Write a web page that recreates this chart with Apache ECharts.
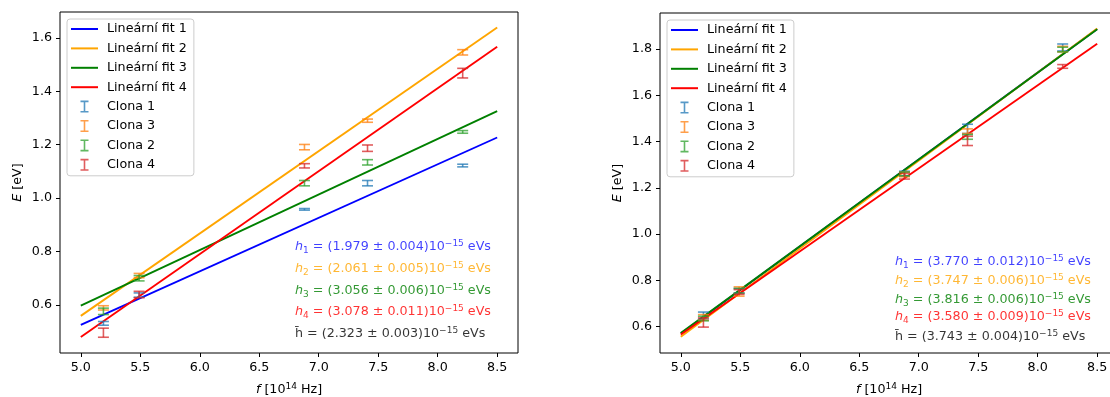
<!DOCTYPE html>
<html>
<head>
<meta charset="utf-8">
<script src="https://cdn.jsdelivr.net/npm/echarts@6/dist/echarts.min.js"></script>
<style>
  html, body { margin: 0; padding: 0; background: #fff; }
  #main { width: 1110px; height: 397px; }
</style>
</head>
<body>
<div id="main"></div>
<script>
// frequencies of the Hg lines [10^14 Hz]
const freq = [5.19, 5.49, 6.88, 7.41, 8.21];
const fitX = [5.0, 8.5];
const xTicks = [5.0, 5.5, 6.0, 6.5, 7.0, 7.5, 8.0, 8.5];
const leftYTicks = [0.6, 0.8, 1.0, 1.2, 1.4, 1.6];
const rightYTicks = [0.6, 0.8, 1.0, 1.2, 1.4, 1.6, 1.8];

// left plot
const leftFit1 = [0.525, 1.227];
const leftFit2 = [0.559, 1.639];
const leftFit3 = [0.597, 1.326];
const leftFit4 = [0.480, 1.567];
const leftClona1 = [0.531, 0.637, 0.958, 1.056, 1.122];
const leftClona1Err = [0.007, 0.008, 0.003, 0.010, 0.005];
const leftClona3 = [0.589, 0.710, 1.191, 1.290, 1.546];
const leftClona3Err = [0.008, 0.008, 0.010, 0.006, 0.010];
const leftClona2 = [0.576, 0.700, 1.056, 1.134, 1.248];
const leftClona2Err = [0.012, 0.010, 0.010, 0.010, 0.005];
const leftClona4 = [0.496, 0.639, 1.121, 1.187, 1.468];
const leftClona4Err = [0.017, 0.012, 0.008, 0.012, 0.018];
const leftH = ['(1.979 ± 0.004)', '(2.061 ± 0.005)', '(3.056 ± 0.006)', '(3.078 ± 0.011)', '(2.323 ± 0.003)'];

// right plot
const rightFit1 = [0.570, 1.887];
const rightFit2 = [0.556, 1.889];
const rightFit3 = [0.572, 1.886];
const rightFit4 = [0.566, 1.823];
const rightClona1 = [0.648, 0.755, 1.262, 1.455, 1.807];
const rightClona1Err = [0.015, 0.010, 0.010, 0.020, 0.015];
const rightClona3 = [0.640, 0.752, 1.258, 1.445, 1.800];
const rightClona3Err = [0.012, 0.020, 0.010, 0.010, 0.012];
const rightClona2 = [0.635, 0.755, 1.260, 1.420, 1.798];
const rightClona2Err = [0.010, 0.010, 0.008, 0.010, 0.010];
const rightClona4 = [0.618, 0.750, 1.250, 1.403, 1.725];
const rightClona4Err = [0.020, 0.010, 0.012, 0.020, 0.008];
const rightH = ['(3.770 ± 0.012)', '(3.747 ± 0.006)', '(3.816 ± 0.006)', '(3.580 ± 0.009)', '(3.743 ± 0.004)'];

const FONT = 'DejaVu Sans';
const fitColors = ['#0000ff', '#ffa500', '#008000', '#ff0000'];
const barColors = {
  'Clona 1': 'rgba(31,119,180,0.75)',
  'Clona 3': 'rgba(255,127,14,0.75)',
  'Clona 2': 'rgba(44,160,44,0.75)',
  'Clona 4': 'rgba(214,39,40,0.75)'
};
const textColors = ['rgba(0,0,255,0.75)', 'rgba(255,165,0,0.8)', 'rgba(0,128,0,0.8)', 'rgba(255,0,0,0.8)', 'rgba(0,0,0,0.8)'];
const fitNames = ['Lineární fit 1', 'Lineární fit 2', 'Lineární fit 3', 'Lineární fit 4'];
const clonaNames = ['Clona 1', 'Clona 3', 'Clona 2', 'Clona 4'];
const ibeam = 'path://M0,0h8v1.6h-8z M3.2,1.6h1.6v8.8h-1.6z M0,10.4h8v1.6h-8z';
const lineIcon = 'path://M0,0h27v2h-27z';

function fitSeries(name, ys, color, idx) {
  return {
    name: name,
    type: 'line',
    xAxisIndex: idx,
    yAxisIndex: idx,
    data: fitX.map((x, i) => [x, ys[i]]),
    symbol: 'none',
    lineStyle: { color: color, width: 1.9 },
    itemStyle: { color: color },
    z: 2,
    animation: false
  };
}

function errSeries(name, ys, errs, idx) {
  return {
    name: name,
    type: 'custom',
    xAxisIndex: idx,
    yAxisIndex: idx,
    data: freq.map((x, i) => [x, ys[i], errs[i]]),
    encode: { x: 0, y: 1 },
    itemStyle: { color: barColors[name] },
    z: 3,
    animation: false,
    renderItem: function (params, api) {
      const x = api.value(0), y = api.value(1), e = api.value(2);
      const top = api.coord([x, y + e]);
      const bot = api.coord([x, y - e]);
      const w = 5.5;
      const style = { stroke: api.visual('color'), lineWidth: 1.6, fill: null };
      return {
        type: 'group',
        children: [
          { type: 'line', shape: { x1: top[0], y1: top[1], x2: bot[0], y2: bot[1] }, style: style },
          { type: 'line', shape: { x1: top[0] - w, y1: top[1], x2: top[0] + w, y2: top[1] }, style: style },
          { type: 'line', shape: { x1: bot[0] - w, y1: bot[1], x2: bot[0] + w, y2: bot[1] }, style: style }
        ]
      };
    }
  };
}

function hRich(color) {
  const base = { fontFamily: FONT, fontWeight: 'normal', color: color };
  return {
    h: Object.assign({}, base, { fontSize: 12.7, fontStyle: 'italic', lineHeight: 16 }),
    t: Object.assign({}, base, { fontSize: 12.7, lineHeight: 16 }),
    sub: Object.assign({}, base, { fontSize: 9, lineHeight: 8, verticalAlign: 'bottom' }),
    sup: Object.assign({}, base, { fontSize: 9, lineHeight: 8, verticalAlign: 'top' })
  };
}

function hTitles(labels, left, tops) {
  return labels.map((v, i) => {
    const text = i < 4
      ? '{h|h}{sub|' + (i + 1) + '}{t| = ' + v + '10}{sup|−15}{t| eVs}'
      : '{t|h\u0304 = ' + v + '10}{sup|−15}{t| eVs}';
    return {
      text: text,
      left: left,
      top: tops[i],
      padding: 0,
      textStyle: { fontWeight: 'normal', rich: hRich(textColors[i]) }
    };
  });
}

function xAxis(idx) {
  return {
    type: 'value',
    gridIndex: idx,
    min: 4.825,
    max: 8.675,
    name: '{i|f} [10{sup|14} Hz]',
    nameLocation: 'middle',
    nameGap: 29,
    nameTextStyle: {
      fontFamily: FONT, fontSize: 12.7, color: '#000',
      rich: {
        i: { fontFamily: FONT, fontSize: 12.7, fontStyle: 'italic', color: '#000', lineHeight: 16 },
        sup: { fontFamily: FONT, fontSize: 9, color: '#000', lineHeight: 8, verticalAlign: 'top' }
      }
    },
    axisLine: { show: false },
    axisTick: { show: true, length: 4, customValues: xTicks, lineStyle: { color: '#000' } },
    axisLabel: {
      customValues: xTicks, margin: 8, fontFamily: FONT, fontSize: 12.7, color: '#000',
      formatter: v => v.toFixed(1)
    },
    splitLine: { show: false }
  };
}

function yAxis(idx, min, max, ticks) {
  return {
    type: 'value',
    gridIndex: idx,
    min: min,
    max: max,
    name: '{i|E} [eV]',
    nameLocation: 'middle',
    nameGap: 36,
    nameTextStyle: {
      fontFamily: FONT, fontSize: 12.7, color: '#000',
      rich: { i: { fontFamily: FONT, fontSize: 12.7, fontStyle: 'italic', color: '#000' } }
    },
    axisLine: { show: false },
    axisTick: { show: true, length: 4, customValues: ticks, lineStyle: { color: '#000' } },
    axisLabel: {
      customValues: ticks, margin: 8, fontFamily: FONT, fontSize: 12.7, color: '#000',
      formatter: v => v.toFixed(1)
    },
    splitLine: { show: false }
  };
}

function legend(left, top) {
  return {
    orient: 'vertical',
    left: left,
    top: top,
    itemWidth: 27,
    itemHeight: 12,
    itemGap: 5.4,
    padding: [3, 7, 4, 4],
    backgroundColor: 'rgba(255,255,255,0.8)',
    borderColor: '#cccccc',
    borderWidth: 1,
    borderRadius: 3,
    selectedMode: false,
    textStyle: { fontFamily: FONT, fontSize: 12.7, color: '#000', lineHeight: 14, padding: [0, 0, 0, 4] },
    data: fitNames.map(n => ({ name: n, icon: lineIcon }))
      .concat(clonaNames.map(n => ({ name: n, icon: ibeam })))
  };
}

const chart = echarts.init(document.getElementById('main'));

const option = {
  animation: false,
  title: hTitles(leftH, 295, [239, 261, 283, 304, 326])
    .concat(hTitles(rightH, 895, [254, 273, 292, 309, 329])),
  grid: [
    { left: 60, top: 12, width: 458, height: 341, show: true, borderColor: '#000', borderWidth: 1, outerBoundsMode: 'none' },
    { left: 660, top: 13, width: 458, height: 340, show: true, borderColor: '#000', borderWidth: 1, outerBoundsMode: 'none' }
  ],
  legend: [legend(67, 19), legend(667, 20)],
  xAxis: [xAxis(0), xAxis(1)],
  yAxis: [yAxis(0, 0.42, 1.697, leftYTicks), yAxis(1, 0.486, 1.956, rightYTicks)],
  series: [
    fitSeries(fitNames[0], leftFit1, fitColors[0], 0),
    fitSeries(fitNames[1], leftFit2, fitColors[1], 0),
    fitSeries(fitNames[2], leftFit3, fitColors[2], 0),
    fitSeries(fitNames[3], leftFit4, fitColors[3], 0),
    errSeries('Clona 1', leftClona1, leftClona1Err, 0),
    errSeries('Clona 3', leftClona3, leftClona3Err, 0),
    errSeries('Clona 2', leftClona2, leftClona2Err, 0),
    errSeries('Clona 4', leftClona4, leftClona4Err, 0),
    fitSeries(fitNames[0], rightFit1, fitColors[0], 1),
    fitSeries(fitNames[1], rightFit2, fitColors[1], 1),
    fitSeries(fitNames[2], rightFit3, fitColors[2], 1),
    fitSeries(fitNames[3], rightFit4, fitColors[3], 1),
    errSeries('Clona 1', rightClona1, rightClona1Err, 1),
    errSeries('Clona 3', rightClona3, rightClona3Err, 1),
    errSeries('Clona 2', rightClona2, rightClona2Err, 1),
    errSeries('Clona 4', rightClona4, rightClona4Err, 1)
  ]
};

chart.setOption(option);
</script>
</body>
</html>
